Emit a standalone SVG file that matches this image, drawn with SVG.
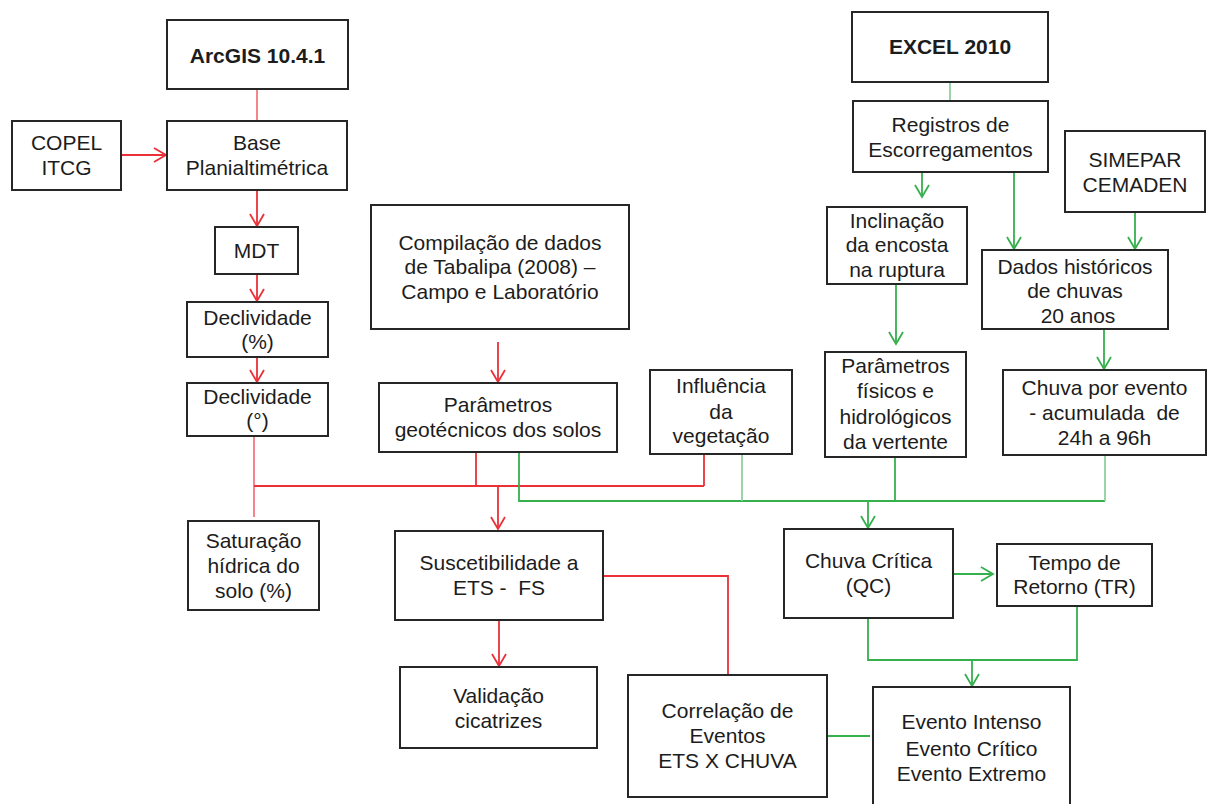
<svg xmlns="http://www.w3.org/2000/svg" width="1207" height="804" viewBox="0 0 1207 804">
<style>
.box{fill:#fff;stroke:#262626;stroke-width:2}
text{font-family:"Liberation Sans",Arial,sans-serif;font-size:21px;fill:#1c1c1c;text-anchor:middle}
.b{font-weight:bold}
.r{fill:none;stroke:#ec3038;stroke-width:1.8}
.rl{fill:none;stroke:#f27a80;stroke-width:1.8}
.g{fill:none;stroke:#36b04d;stroke-width:1.8}
.gl{fill:none;stroke:#8fd19d;stroke-width:1.8}
.ra{marker-end:url(#ar)}
.ga{marker-end:url(#ag)}
</style>
<defs>
<marker id="ar" viewBox="-14 -9 16 18" refX="0" refY="0" markerWidth="16" markerHeight="18" markerUnits="userSpaceOnUse" orient="auto">
<path d="M-12,-7 L0,0 L-12,7" fill="none" stroke="#ec3038" stroke-width="1.8"/>
</marker>
<marker id="ag" viewBox="-14 -9 16 18" refX="0" refY="0" markerWidth="16" markerHeight="18" markerUnits="userSpaceOnUse" orient="auto">
<path d="M-12,-7 L0,0 L-12,7" fill="none" stroke="#36b04d" stroke-width="1.8"/>
</marker>
</defs>
<rect width="1207" height="804" fill="#fff"/>
<g id="connectors">
<line class="rl" x1="257" y1="89" x2="257" y2="121"/>
<line class="r ra" x1="121" y1="155" x2="166" y2="155"/>
<line class="r ra" x1="257" y1="190" x2="257" y2="226"/>
<line class="r ra" x1="257" y1="274" x2="257" y2="301"/>
<line class="r ra" x1="257" y1="357" x2="257" y2="382"/>
<line class="rl" x1="254" y1="436" x2="254" y2="517"/>
<line class="r" x1="254" y1="486" x2="704" y2="486"/>
<line class="r" x1="476" y1="452" x2="476" y2="486"/>
<line class="r" x1="704" y1="454" x2="704" y2="486"/>
<line class="r ra" x1="498" y1="486" x2="498" y2="529"/>
<line class="r ra" x1="498" y1="342" x2="498" y2="382"/>
<line class="r ra" x1="499" y1="620" x2="499" y2="666"/>
<polyline class="r" points="603,576 728,576 728,675"/>
<line class="gl" x1="950" y1="82" x2="950" y2="101"/>
<line class="g ga" x1="922" y1="172" x2="922" y2="197"/>
<line class="g ga" x1="1014" y1="172" x2="1014" y2="249"/>
<line class="g ga" x1="1135" y1="212" x2="1135" y2="249"/>
<line class="g ga" x1="896" y1="284" x2="896" y2="344"/>
<line class="g ga" x1="1104" y1="329" x2="1104" y2="369"/>
<polyline class="g" points="519,452 519,501 1105,501"/>
<line class="gl" x1="742" y1="454" x2="742" y2="501"/>
<line class="g" x1="895" y1="457" x2="895" y2="501"/>
<line class="gl" x1="1105" y1="455" x2="1105" y2="501"/>
<line class="g ga" x1="868" y1="501" x2="868" y2="528"/>
<line class="g ga" x1="953" y1="574" x2="993" y2="574"/>
<polyline class="g" points="868,618 868,660 1077,660 1077,607"/>
<line class="g ga" x1="972" y1="660" x2="972" y2="686"/>
<line class="g" x1="827" y1="736" x2="870" y2="736"/>
</g>
<g id="arcgis"><rect class="box" x="167" y="20" width="181" height="69"/><text class="b" x="257.5" y="63">ArcGIS 10.4.1</text></g>
<g id="copel"><rect class="box" x="12" y="121" width="109" height="69"/><text x="66.5" y="150">COPEL</text><text x="66.5" y="175">ITCG</text></g>
<g id="base"><rect class="box" x="167" y="121" width="180" height="69"/><text x="257" y="150">Base</text><text x="257" y="175">Planialtimétrica</text></g>
<g id="mdt"><rect class="box" x="215" y="227" width="83" height="47"/><text x="256.5" y="258">MDT</text></g>
<g id="decl-pct"><rect class="box" x="187" y="302" width="141" height="55"/><text x="257.5" y="325">Declividade</text><text x="257.5" y="349">(%)</text></g>
<g id="decl-deg"><rect class="box" x="187" y="383" width="141" height="53"/><text x="257.5" y="404">Declividade</text><text x="257.5" y="428">(°)</text></g>
<g id="saturacao"><rect class="box" x="188" y="521" width="131" height="89"/><text x="253.5" y="548">Saturação</text><text x="253.5" y="573">hídrica do</text><text x="253.5" y="598">solo (%)</text></g>
<g id="compilacao"><rect class="box" x="371" y="205" width="258" height="124"/><text x="500" y="250">Compilação de dados</text><text x="500" y="274">de Tabalipa (2008) –</text><text x="500" y="299">Campo e Laboratório</text></g>
<g id="param-geo"><rect class="box" x="379" y="383" width="238" height="69"/><text x="498" y="412">Parâmetros</text><text x="498" y="437">geotécnicos dos solos</text></g>
<g id="influencia"><rect class="box" x="650" y="370" width="142" height="84"/><text x="721" y="393">Influência</text><text x="721" y="419">da</text><text x="721" y="443">vegetação</text></g>
<g id="excel"><rect class="box" x="852" y="12" width="196" height="70"/><text class="b" x="950" y="54">EXCEL 2010</text></g>
<g id="registros"><rect class="box" x="853" y="101" width="195" height="71"/><text x="950.5" y="132">Registros de</text><text x="950.5" y="157">Escorregamentos</text></g>
<g id="simepar"><rect class="box" x="1065" y="131" width="140" height="81"/><text x="1135" y="167">SIMEPAR</text><text x="1135" y="192">CEMADEN</text></g>
<g id="inclinacao"><rect class="box" x="827" y="207" width="140" height="77"/><text x="897" y="228">Inclinação</text><text x="897" y="252">da encosta</text><text x="897" y="277">na ruptura</text></g>
<g id="dados"><rect class="box" x="982" y="250" width="186" height="79"/><text x="1075" y="274">Dados históricos</text><text x="1075" y="298">de chuvas</text><text x="1078" y="323">20 anos</text></g>
<g id="param-fis"><rect class="box" x="825" y="352" width="141" height="105"/><text x="895.5" y="373">Parâmetros</text><text x="895.5" y="398">físicos e</text><text x="895.5" y="424">hidrológicos</text><text x="895.5" y="449">da vertente</text></g>
<g id="chuva-evento"><rect class="box" x="1003" y="370" width="203" height="85"/><text x="1104.5" y="395">Chuva por evento</text><text x="1104.5" y="420" xml:space="preserve">- acumulada  de</text><text x="1104.5" y="445">24h a 96h</text></g>
<g id="suscetibilidade"><rect class="box" x="395" y="531" width="208" height="89"/><text x="499" y="570">Suscetibilidade a</text><text x="499" y="595" xml:space="preserve">ETS -  FS</text></g>
<g id="chuva-critica"><rect class="box" x="784" y="529" width="169" height="89"/><text x="868.5" y="568">Chuva Crítica</text><text x="868.5" y="593">(QC)</text></g>
<g id="tempo"><rect class="box" x="997" y="544" width="155" height="62"/><text x="1074.5" y="570">Tempo de</text><text x="1074.5" y="594">Retorno (TR)</text></g>
<g id="validacao"><rect class="box" x="400" y="667" width="197" height="81"/><text x="498.5" y="703">Validação</text><text x="498.5" y="728">cicatrizes</text></g>
<g id="correlacao"><rect class="box" x="628" y="675" width="199" height="122"/><text x="727.5" y="718">Correlação de</text><text x="727.5" y="743">Eventos</text><text x="727.5" y="768">ETS X CHUVA</text></g>
<g id="evento"><rect class="box" x="873" y="687" width="197" height="122"/><text x="971.5" y="729">Evento Intenso</text><text x="971.5" y="756">Evento Crítico</text><text x="971.5" y="781">Evento Extremo</text></g>
</svg>
